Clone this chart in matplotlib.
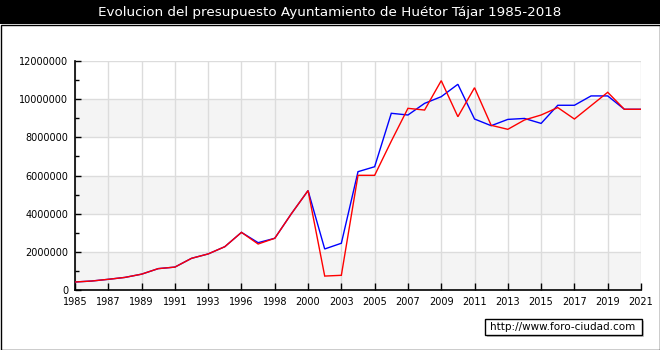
import matplotlib
matplotlib.use("Agg")
import matplotlib.pyplot as plt
from matplotlib.patches import Rectangle
from matplotlib.ticker import MultipleLocator
import numpy as np

categories = ["1985", "1986", "1987", "1988", "1989", "1990", "1991", "1992", "1993",
              "1995", "1996", "1997", "1998", "1999", "2000", "2002", "2003", "2004",
              "2005", "2006", "2007", "2008", "2009", "2010", "2011", "2012", "2013",
              "2014", "2015", "2016", "2017", "2018", "2019", "2020", "2021"]

red_values = [420000, 470000, 560000, 660000, 830000, 1120000, 1200000, 1660000, 1890000,
              2270000, 3020000, 2410000, 2710000, 4000000, 5210000, 730000, 770000, 6010000,
              6010000, 7800000, 9520000, 9430000, 10970000, 9080000, 10600000, 8630000, 8420000,
              8910000, 9170000, 9560000, 8960000, 9660000, 10360000, 9470000, 9470000]

blue_values = [420000, 470000, 560000, 660000, 830000, 1120000, 1200000, 1660000, 1890000,
               2270000, 3020000, 2480000, 2710000, 4000000, 5210000, 2150000, 2450000, 6200000,
               6460000, 9260000, 9170000, 9780000, 10130000, 10780000, 8960000, 8610000, 8940000,
               8990000, 8730000, 9680000, 9680000, 10170000, 10170000, 9470000, 9470000]

title = "Evolucion del presupuesto Ayuntamiento de Huétor Tájar 1985-2018"
watermark = "http://www.foro-ciudad.com"

W, H = 660, 350
fig = plt.figure(figsize=(W / 100, H / 100), dpi=100)
fig.patch.set_facecolor("white")

def fx(px):
    return px / W

def fy(py):
    return 1 - py / H

# title bar
fig.patches.append(Rectangle((0, fy(24)), 1, 24 / H, transform=fig.transFigure,
                             facecolor="black", edgecolor="none", zorder=0))
fig.text(0.5, fy(12.5), title, color="white", ha="center", va="center", fontsize=9.7,
         family="DejaVu Sans")
# outer frame
fig.patches.append(Rectangle((fx(0.5), fy(349.5)), fx(659), 325 / H, transform=fig.transFigure,
                             facecolor="none", edgecolor="black", linewidth=1, zorder=5))

ax = fig.add_axes([fx(75), fy(290), fx(641) - fx(75), (290 - 61) / H])
x = np.arange(len(categories))

ymax = 12000000
for lo in range(0, ymax, 4000000):
    ax.axhspan(lo, lo + 2000000, color="#f4f4f4", zorder=0, linewidth=0)

ax.plot(x, blue_values, color="#0000ff", linewidth=1, zorder=3, solid_joinstyle="miter")
ax.plot(x, red_values, color="#ff0000", linewidth=1, zorder=4, solid_joinstyle="miter")

ax.set_xlim(0, len(categories) - 1)
ax.set_ylim(0, ymax)
ax.set_xticks(x[::2])
ax.set_xticklabels(categories[::2])
ax.yaxis.set_major_locator(MultipleLocator(2000000))
ax.yaxis.set_minor_locator(MultipleLocator(1000000))
ax.set_yticklabels([str(int(v)) for v in ax.get_yticks()])

ax.grid(True, which="major", color="#dcdcdc", linewidth=1, zorder=1)
ax.set_axisbelow(True)
for s in ["top", "right"]:
    ax.spines[s].set_visible(False)
for s in ["left", "bottom"]:
    ax.spines[s].set_color("black")
    ax.spines[s].set_linewidth(1.2)
ax.tick_params(axis="both", which="major", direction="in", length=4, width=1,
               labelsize=7, pad=5, colors="black")
ax.tick_params(axis="y", which="minor", direction="in", length=3, width=1)
ax.tick_params(axis="x", which="major", length=5)
ax.set_facecolor("white")

# watermark box with shadow
fig.patches.append(Rectangle((fx(487), fy(337)), fx(157), 16 / H, transform=fig.transFigure,
                             facecolor="#c8c8c8", edgecolor="none", zorder=5))
fig.patches.append(Rectangle((fx(484.5), fy(334.5)), fx(157), 16 / H, transform=fig.transFigure,
                             facecolor="white", edgecolor="black", linewidth=1, zorder=6))
fig.text(fx(563), fy(326.5), watermark, ha="center", va="center", fontsize=7.5,
         color="black", zorder=7)

fig.savefig("out.png", dpi=100)
